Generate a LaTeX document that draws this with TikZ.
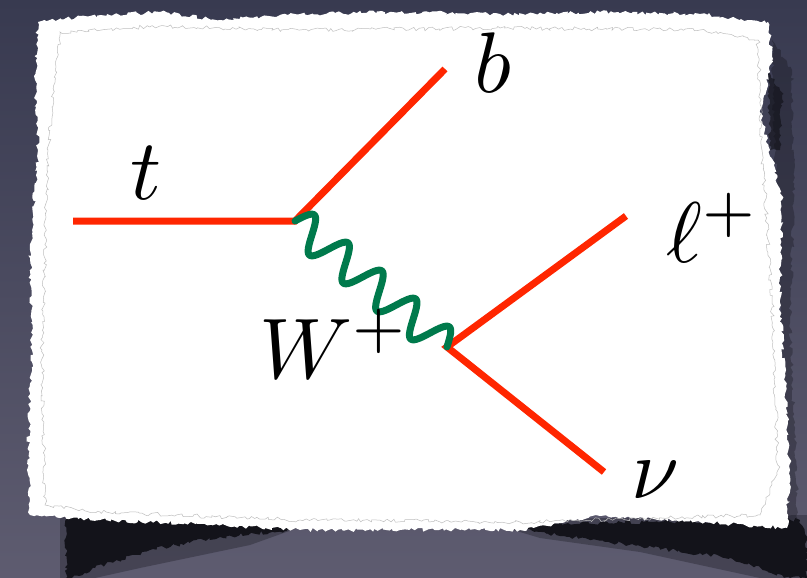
\documentclass[tikz,border=0pt]{standalone}
\usetikzlibrary{decorations.pathmorphing}
\definecolor{bgtop}{RGB}{56,58,80}
\definecolor{bgbot}{RGB}{94,92,112}
\definecolor{redline}{RGB}{255,38,0}
\definecolor{greenline}{RGB}{0,122,76}
\definecolor{shadowc}{RGB}{14,14,20}
\tikzset{
  fermion/.style={draw=redline,line width=7pt},
  photon/.style={draw=greenline,line width=7pt,line cap=round,line join=round},
  lbl/.style={inner sep=0pt,anchor=base west,scale=8.6},
  torn/.style={decorate,decoration={random steps,segment length=3pt,amplitude=2pt}},
  shadowpart/.style={fill=shadowc,torn},
}
\begin{document}
\begin{tikzpicture}[x=1pt,y=-1pt]
\useasboundingbox (0,0) rectangle (807,578);
\shade[top color=bgtop,bottom color=bgbot] (0,0) rectangle (807,578);
\pgfmathsetseed{11}
% shadows
\fill[shadowc,opacity=0.3] (60,512) -- (320,520) -- (250,545) -- (140,568) -- (95,578) -- (60,578) -- cycle;
\fill[shadowpart,opacity=0.9] (66,514) -- (300,522) -- (285,531) -- (220,537) -- (150,550) -- (95,568) -- (72,578) -- (66,578) -- cycle;
\fill[shadowc,opacity=0.3] (480,520) -- (807,515) -- (807,578) -- (760,578) -- (640,552) -- (540,538) -- cycle;
\fill[shadowpart,opacity=0.9] (500,524) -- (800,520) -- (807,540) -- (807,578) -- (790,578) -- (730,558) -- (640,546) -- (560,536) -- cycle;
\fill[shadowpart,opacity=0.3] (772,40) -- (792,70) -- (794,200) -- (790,320) -- (798,520) -- (785,525) -- cycle;
\fill[shadowpart,opacity=0.6] (768,70) -- (782,95) -- (780,150) -- (770,150) -- cycle;
% paper
\fill[white,torn] (38,22) -- (90,16) -- (160,12) -- (220,20) -- (300,14) -- (400,12) -- (500,14)
  -- (600,12) -- (700,14) -- (768,22) -- (772,60) -- (760,112) -- (770,150) -- (782,200)
  -- (780,300) -- (786,400) -- (790,470) -- (787,528) -- (700,522) -- (600,516) -- (520,530)
  -- (400,530) -- (300,530) -- (200,524) -- (100,520) -- (30,515) -- (28,450) -- (32,350)
  -- (30,250) -- (38,150) -- (35,80) -- cycle;
\draw[black!25,line width=0.5pt,torn] (60,32) -- (160,26) -- (300,30) -- (500,28) -- (700,30) -- (758,40)
  -- (762,150) -- (772,300) -- (778,470) -- (760,515) -- (520,522) -- (300,520) -- (100,512) -- (45,505)
  -- (42,350) -- (48,150) -- cycle;
% vertices and endpoints
\coordinate (tin) at (73,221);
\coordinate (v1) at (295,221);
\coordinate (bout) at (445,69);
\coordinate (v2) at (447,347);
\coordinate (lout) at (626,216);
\coordinate (nout) at (604,472);
% fermion lines
\draw[fermion] (tin) -- (v1) -- (bout);
\draw[fermion] (lout) -- (v2) -- (nout);
% photon
\begin{scope}[shift={(v1)},rotate=-39.66]
\draw[photon] plot[domain=0:197.4,samples=160,smooth] (\x,{-17*sin(\x*8.2067)});
\end{scope}
% labels
\node[lbl] (lt) at (129,200) {$t$};
\node[lbl] (lb) at (473,93) {$b$};
\node[lbl] (ll) at (665,262) {$\ell^+$};
\node[lbl] (lw) at (258,378) {$W^+$};
\node[lbl] (ln) at (630,498) {$\nu$};
\end{tikzpicture}
\end{document}
